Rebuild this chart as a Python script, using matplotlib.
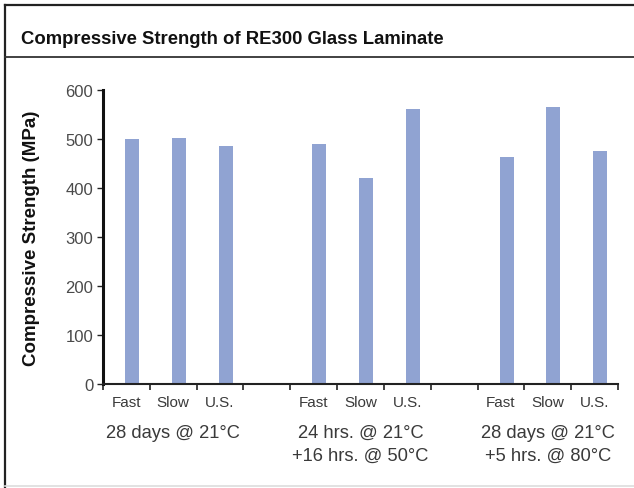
import matplotlib
matplotlib.use("Agg")
import matplotlib.pyplot as plt
from matplotlib.lines import Line2D
import matplotlib.transforms as mtransforms

plt.rcParams['font.family'] = ['Liberation Sans', 'DejaVu Sans']

# ---- data ----
conditions = ["28 days @ 21\u00b0C",
              "24 hrs. @ 21\u00b0C\n+16 hrs. @ 50\u00b0C",
              "28 days @ 21\u00b0C\n+5 hrs. @ 80\u00b0C"]
speeds = ["Fast", "Slow", "U.S."]
strength_28d = [500, 502, 486]
strength_16h50 = [490, 420, 561]
strength_5h80 = [463, 565, 475]
strengths = [strength_28d, strength_16h50, strength_5h80]

W, H = 634, 489
fig = plt.figure(figsize=(W / 100, H / 100), dpi=100)
ax = fig.add_axes([103 / W, 1 - 385 / H, (618 - 103) / W, (385 - 91) / H])

bar_color = "#90a3d2"
n_slots = len(conditions) * 4 - 1
centers, labels = [], []
for g, vals in enumerate(strengths):
    for j, v in enumerate(vals):
        slot = g * 4 + j
        ax.bar(slot + 0.62, v, width=0.3, color=bar_color, zorder=2)
        centers.append(slot + 0.5)
        labels.append(speeds[j])

ax.set_xlim(0, n_slots)
ax.set_ylim(0, 600)
ax.set_yticks(range(0, 601, 100))

# boundary ticks (major) and category labels (minor)
ax.set_xticks(range(0, n_slots + 1))
ax.set_xticklabels([])
ax.set_xticks(centers, minor=True)
ax.set_xticklabels(labels, minor=True)
ax.tick_params(axis='x', which='major', length=4, width=1.2, color='#222222', direction='out')
ax.tick_params(axis='x', which='minor', length=0, pad=8, labelsize=11, labelcolor='#3a3a3a')
ax.tick_params(axis='y', length=4, width=1.0, color='#222222', labelsize=12,
               labelcolor='#4a4a4a', pad=3)

for s in ['top', 'right']:
    ax.spines[s].set_visible(False)
ax.spines['left'].set_linewidth(2.2)
ax.spines['left'].set_color('#111111')
ax.spines['bottom'].set_linewidth(1.5)
ax.spines['bottom'].set_color('#222222')

ax.set_ylabel("Compressive Strength (MPa)", fontsize=13.5, fontweight='bold',
              color='#111111')
ax.yaxis.set_label_coords(-(103 - 40) / (618 - 103), 0.5)

# group labels under the axis
trans = mtransforms.blended_transform_factory(ax.transData, fig.transFigure)
for g, cond in enumerate(conditions):
    ax.text(g * 4 + 1.5, 1 - 425 / H, cond, transform=trans, ha='center', va='top',
            fontsize=13.2, color='#3a3a3a', linespacing=1.45)

# title and frame
fig.text(21 / W, 1 - 40 / H, "Compressive Strength of RE300 Glass Laminate",
         fontsize=13.3, fontweight='bold', color='#111111', va='center', ha='left')

def px_line(x0, y0, x1, y1, color, lw):
    fig.add_artist(Line2D([x0 / W, x1 / W], [1 - y0 / H, 1 - y1 / H],
                          transform=fig.transFigure, color=color, linewidth=lw))

px_line(4.5, 6, W, 6, '#222222', 1.6)
px_line(4.5, 6, 4.5, H, '#222222', 1.6)
px_line(4.5, 58, W, 58, '#333333', 1.3)
px_line(4.5, 487, W, 487, '#dddddd', 1.2)

fig.savefig("out.png", dpi=100)
